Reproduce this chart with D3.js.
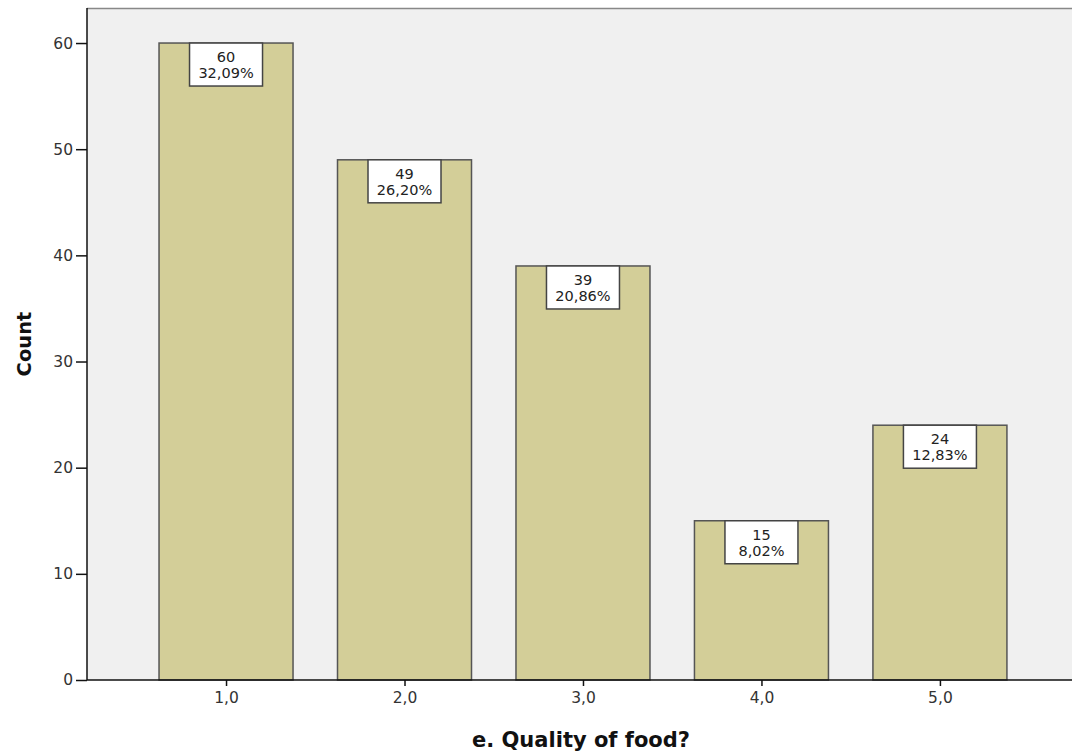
<!DOCTYPE html>
<html>
<head>
<meta charset="utf-8">
<script src="https://cdn.jsdelivr.net/npm/d3@7"></script>
<style>
  body { margin: 0; background: #fff; }
  text { font-family: "DejaVu Sans", sans-serif; }
</style>
</head>
<body>
<div id="chart-area"></div>
<script>
// values
const categories = [1, 2, 3, 4, 5];
const counts = [60, 49, 39, 15, 24];
const percents = ["32,09%", "26,20%", "20,86%", "8,02%", "12,83%"];
const yTicks = [0, 10, 20, 30, 40, 50, 60];

const width = 1072, height = 754;
const plotLeft = 87, plotTop = 8, plotBottom = 680, plotRight = 1072;

const svg = d3.select("#chart-area")
  .append("svg")
  .attr("width", width)
  .attr("height", height);

const x = d3.scaleLinear().domain([0.221, 5.74]).range([plotLeft, plotRight]);
const y = d3.scaleLinear().domain([0, 63.3]).range([plotBottom, plotTop]);
const barW = 134;

// plot background
svg.append("rect")
  .attr("x", plotLeft).attr("y", plotTop)
  .attr("width", plotRight - plotLeft).attr("height", plotBottom - plotTop)
  .attr("fill", "#f0f0f0");
svg.append("line")
  .attr("x1", plotLeft).attr("x2", plotRight)
  .attr("y1", plotTop + 0.5).attr("y2", plotTop + 0.5)
  .attr("stroke", "#888").attr("stroke-width", 1.5);

// bars
svg.selectAll(".bar")
  .data(categories)
  .enter()
  .append("rect")
  .attr("class", "bar")
  .attr("x", d => x(d) - barW / 2)
  .attr("y", (d, i) => y(counts[i]))
  .attr("width", barW)
  .attr("height", (d, i) => plotBottom - y(counts[i]))
  .attr("fill", "#d3ce98")
  .attr("stroke", "#555")
  .attr("stroke-width", 1.5);

// value labels
const labels = svg.selectAll(".lab")
  .data(categories)
  .enter()
  .append("g")
  .attr("class", "lab")
  .attr("transform", (d, i) => `translate(${x(d)},${y(counts[i])})`);

labels.append("rect")
  .attr("x", -36.5).attr("y", 0)
  .attr("width", 73).attr("height", 43)
  .attr("fill", "#fff")
  .attr("stroke", "#444")
  .attr("stroke-width", 1.5);

labels.append("text")
  .attr("y", 19)
  .attr("text-anchor", "middle")
  .attr("font-size", 14.5)
  .attr("fill", "#222")
  .text((d, i) => counts[i]);

labels.append("text")
  .attr("y", 35)
  .attr("text-anchor", "middle")
  .attr("font-size", 14.5)
  .attr("fill", "#222")
  .text((d, i) => percents[i]);

// y axis
const yAxis = d3.axisLeft(y).tickValues(yTicks).tickSize(11).tickPadding(3);
const gy = svg.append("g")
  .attr("transform", `translate(${plotLeft},0)`)
  .call(yAxis);
gy.select(".domain").attr("stroke", "#111").attr("stroke-width", 1.5)
  .attr("d", `M0,${plotTop}V${plotBottom}`);
gy.selectAll(".tick line").attr("stroke", "#111").attr("stroke-width", 1.5);
gy.selectAll(".tick text").attr("font-size", 15.5).attr("fill", "#333")
  .attr("font-family", "DejaVu Sans, sans-serif");

// x axis
const xAxis = d3.axisBottom(x).tickValues(categories).tickSize(6).tickPadding(6)
  .tickFormat(d => d3.format(".1f")(d).replace(".", ","));
const gx = svg.append("g")
  .attr("transform", `translate(0,${plotBottom})`)
  .call(xAxis);
gx.select(".domain").attr("stroke", "#111").attr("stroke-width", 1.5)
  .attr("d", `M${plotLeft},0H${plotRight}`);
gx.selectAll(".tick line").attr("stroke", "#111").attr("stroke-width", 1.5);
gx.selectAll(".tick text").attr("font-size", 15.5).attr("fill", "#333")
  .attr("font-family", "DejaVu Sans, sans-serif");

// titles
svg.append("text")
  .attr("x", 581).attr("y", 747)
  .attr("text-anchor", "middle")
  .attr("font-size", 21).attr("font-weight", "bold").attr("fill", "#111")
  .text("e. Quality of food?");

svg.append("text")
  .attr("transform", `translate(31,${(plotTop + plotBottom) / 2}) rotate(-90)`)
  .attr("text-anchor", "middle")
  .attr("font-size", 19.5).attr("font-weight", "bold").attr("fill", "#111")
  .text("Count");
</script>
</body>
</html>
